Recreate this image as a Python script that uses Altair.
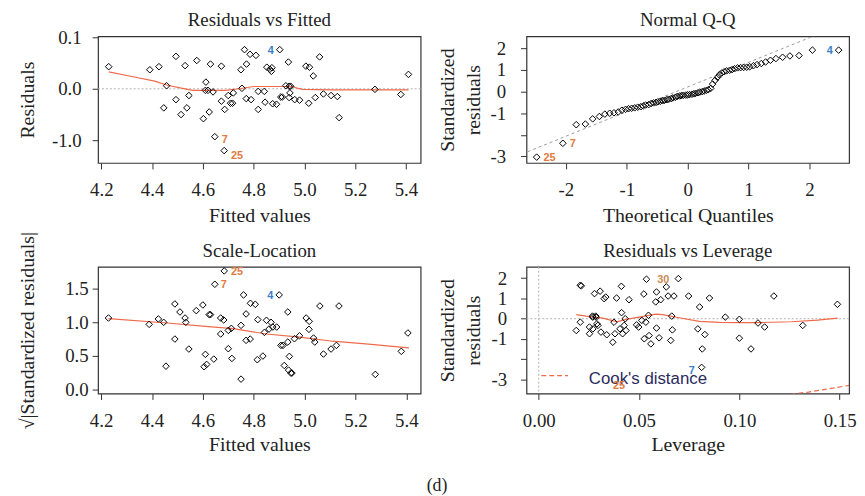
import altair as alt
import pandas as pd

SERIF = "Liberation Serif"
SANS = "Liberation Sans"
W, H = 326, 128
BLUE = "#3a7fc6"
ORANGE = "#e07a3e"
RED = "#f06a4a"

# ---------------- Residuals vs Fitted ----------------
rvf_fitted = [4.229, 4.391, 4.427, 4.457, 4.446, 4.494, 4.494, 4.530, 4.514, 4.537,
              4.545, 4.576, 4.602, 4.612, 4.610, 4.620, 4.630, 4.625, 4.640, 4.647,
              4.673, 4.673, 4.686, 4.684, 4.700, 4.709, 4.717, 4.720, 4.750, 4.754,
              4.764, 4.772, 4.771, 4.786, 4.790, 4.809, 4.818, 4.818, 4.842, 4.845,
              4.852, 4.864, 4.870, 4.872, 4.903, 4.875, 4.890, 4.907, 4.913, 4.927,
              4.937, 4.940, 4.946, 4.940, 4.943, 4.962, 4.981, 5.006, 5.020, 5.017,
              5.035, 5.043, 5.060, 5.075, 5.105, 5.130, 5.137, 5.278, 5.380, 5.410]
rvf_resid = [0.043, 0.037, 0.043, 0.006, -0.037, 0.063, -0.021, 0.045, -0.050, -0.037,
             -0.013, 0.055, -0.058, 0.013, -0.003, -0.003, 0.048, -0.045, -0.006, -0.093,
             0.044, -0.024, -0.040, -0.120, -0.013, -0.028, -0.028, -0.008, 0.037, 0.001,
             0.076, 0.048, -0.019, 0.067, -0.021, 0.065, -0.005, -0.040, -0.005, -0.026,
             0.042, 0.038, 0.034, 0.041, 0.076, -0.029, -0.030, -0.016, -0.016, 0.006,
             0.052, 0.005, 0.005, -0.017, -0.008, -0.021, -0.022, 0.044, 0.042, -0.028,
             0.025, -0.017, 0.062, -0.010, -0.013, -0.015, -0.056, -0.001, -0.011, 0.028]
rvf_smooth_x = [4.229, 4.33, 4.41, 4.46, 4.52, 4.56, 4.61, 4.69, 4.75, 4.80, 4.89, 4.95, 4.975, 4.995, 5.11, 5.41]
rvf_smooth_y = [0.033, 0.023, 0.015, 0.007, 0.001, -0.003, -0.003, -0.003, 0.0006, 0.0045, 0.0045, 0.0045, 0.001, -0.001, -0.002, -0.002]
rvf_lab_x = [4.903, 4.647, 4.684]
rvf_lab_y = [0.076, -0.093, -0.120]
rvf_lab = ["4", "7", "25"]

# ---------------- Normal Q-Q ----------------
qq_theo = [-2.48, -2.05, -1.83, -1.68, -1.56, -1.45, -1.36, -1.28, -1.21, -1.14,
           -1.08, -1.02, -0.97, -0.92, -0.87, -0.82, -0.77, -0.73, -0.69, -0.64,
           -0.60, -0.56, -0.52, -0.49, -0.45, -0.41, -0.38, -0.34, -0.31, -0.27,
           -0.24, -0.20, -0.17, -0.13, -0.10, -0.07, -0.03, 0.00, 0.03, 0.07,
           0.10, 0.13, 0.17, 0.20, 0.24, 0.27, 0.31, 0.34, 0.38, 0.41,
           0.45, 0.49, 0.52, 0.56, 0.60, 0.64, 0.69, 0.73, 0.77, 0.82,
           0.87, 0.92, 0.97, 1.02, 1.08, 1.14, 1.21, 1.28, 1.36, 1.45,
           1.56, 1.68, 1.83, 2.05, 2.48]
qq_std = [-3.03, -2.39, -1.53, -1.50, -1.26, -1.15, -1.04, -1.00, -0.98, -0.94,
          -0.86, -0.82, -0.79, -0.77, -0.75, -0.72, -0.70, -0.66, -0.62, -0.60,
          -0.55, -0.52, -0.50, -0.47, -0.45, -0.42, -0.40, -0.37, -0.35, -0.32,
          -0.29, -0.26, -0.22, -0.20, -0.18, -0.17, -0.16, -0.15, -0.14, -0.12,
          -0.10, -0.08, -0.05, -0.02, 0.00, 0.03, 0.06, 0.09, 0.15, 0.35,
          0.52, 0.66, 0.78, 0.86, 0.92, 0.96, 0.99, 1.02, 1.06, 1.10,
          1.11, 1.12, 1.13, 1.15, 1.20, 1.25, 1.30, 1.37, 1.45, 1.53,
          1.59, 1.65, 1.67, 1.92, 1.92]
qq_line_x = [-2.9, 2.9]
qq_line_y = [-3.09, 3.52]
qq_lab_x = [-2.48, -2.05, 2.48]
qq_lab_y = [-3.03, -2.39, 1.92]
qq_lab = ["25", "7", "4"]

# ---------------- Scale-Location ----------------
sl_fitted = [4.229, 4.389, 4.425, 4.446, 4.455, 4.490, 4.490, 4.510, 4.530, 4.533,
             4.545, 4.574, 4.600, 4.610, 4.605, 4.615, 4.625, 4.630, 4.643, 4.647,
             4.670, 4.682, 4.670, 4.684, 4.700, 4.700, 4.712, 4.714, 4.750, 4.750,
             4.760, 4.770, 4.770, 4.786, 4.787, 4.806, 4.814, 4.816, 4.836, 4.842,
             4.850, 4.868, 4.860, 4.875, 4.890, 4.900, 4.907, 4.915, 4.920, 4.934,
             4.934, 4.937, 4.940, 4.946, 4.950, 4.960, 4.980, 5.006, 5.018, 5.017,
             5.035, 5.040, 5.060, 5.074, 5.104, 5.125, 5.135, 5.278, 5.380, 5.406]
sl_sqrt_std = [1.064, 0.970, 1.050, 1.000, 0.350, 1.272, 0.752, 1.153, 1.064, 1.000,
               0.604, 1.173, 1.257, 0.525, 0.342, 0.376, 1.114, 1.114, 0.455, 1.564,
               1.064, 1.035, 0.827, 1.762, 0.609, 0.880, 0.911, 0.465, 0.955, 0.158,
               1.406, 0.733, 1.124, 0.752, 1.282, 1.267, 0.446, 1.040, 0.500, 0.851,
               1.030, 1.000, 0.900, 0.930, 0.930, 1.406, 0.658, 0.658, 0.360, 1.153,
               0.708, 0.292, 0.495, 0.248, 0.248, 0.757, 0.800, 1.064, 1.015, 0.896,
               0.767, 0.708, 1.242, 0.530, 0.604, 0.658, 1.242, 0.228, 0.570, 0.842]
sl_smooth_x = [4.229, 4.46, 4.61, 4.72, 4.85, 4.98, 5.11, 5.24, 5.41]
sl_smooth_y = [1.054, 0.99, 0.94, 0.906, 0.827, 0.78, 0.72, 0.68, 0.62]
sl_lab_x = [4.684, 4.647, 4.900]
sl_lab_y = [1.762, 1.564, 1.406]
sl_lab = ["25", "7", "4"]

# ---------------- Residuals vs Leverage ----------------
lev_h = [0.0207, 0.0212, 0.0187, 0.0207, 0.0253, 0.0253, 0.0269, 0.0278, 0.0286, 0.0270,
         0.0290, 0.0295, 0.0306, 0.0310, 0.0334, 0.0326, 0.0339, 0.0369, 0.0375, 0.0388,
         0.0380, 0.0412, 0.0413, 0.0405, 0.0418, 0.0426, 0.0431, 0.0435, 0.0450, 0.0488,
         0.0498, 0.0514, 0.0524, 0.0534, 0.0526, 0.0537, 0.0547, 0.0550, 0.0559, 0.0587,
         0.0587, 0.0583, 0.0600, 0.0608, 0.0636, 0.0645, 0.0658, 0.0666, 0.0663, 0.0674,
         0.0696, 0.0747, 0.0793, 0.0802, 0.0815, 0.0812, 0.0828, 0.0851, 0.0930, 0.1000,
         0.1000, 0.1058, 0.1093, 0.1126, 0.1172, 0.1316, 0.1489, 0.0268, 0.0284]
lev_std = [1.65, 1.62, -0.58, -0.17, -0.74, -0.41, 0.08, 1.24, 0.08, -0.50,
           -0.25, -0.33, 1.36, -0.66, 1.07, 0.99, -0.79, -1.16, -0.17, 1.02,
           -0.74, 1.60, 0.30, -0.50, -0.74, -0.33, 0.00, -0.58, 0.94, -0.30,
           -0.41, -0.08, 1.22, -0.17, -0.99, 1.95, 0.17, -0.83, -1.24, 1.32,
           -0.46, 0.83, -0.94, 0.94, 1.57, 1.12, -1.07, -0.55, 0.13, 1.12,
           1.98, 1.12, -0.50, 0.58, -1.49, -2.40, -0.78, 1.02, 0.08, -0.03,
           -0.96, -1.49, -0.21, -0.41, 1.12, -0.33, 0.71, 0.13, 0.13]
lev_smooth_x = [0.0187, 0.0236, 0.032, 0.039, 0.0435, 0.05, 0.0583, 0.0617, 0.07, 0.08,
                0.09, 0.10, 0.11, 0.126, 0.139, 0.149]
lev_smooth_y = [0.20, 0.13, 0.03, -0.15, -0.03, 0.08, 0.23, 0.20, 0.05, -0.13,
                -0.18, -0.19, -0.19, -0.15, -0.07, 0.03]
cook_x = [0.1255, 0.1345, 0.145, 0.1547]
cook_y = [-3.72, -3.62, -3.45, -3.29]
lev_lab_x = [0.0537, 0.0812, 0.0400]
lev_lab_y = [1.95, -2.40, -3.27]
lev_lab = ["30", "7", "25"]

panel_titles = ["Residuals vs Fitted", "Normal Q-Q", "Scale-Location", "Residuals vs Leverage"]

TICK_FS = 19
TITLE_FS = 20
HEAD_FS = 19


def y_axis(values, label_expr, title, title_x, label_padding, line_height=None):
    kw = dict(values=values, labelExpr=label_expr, title=title, titleX=title_x, titleY=H / 2,
              titleAngle=-90, titleAlign="center", titleBaseline="middle",
              tickSize=6, labelPadding=label_padding, grid=False, domain=False)
    if line_height:
        kw["titleLineHeight"] = line_height
    return alt.Axis(**kw)


def x_axis(values, label_expr, title, title_y):
    return alt.Axis(values=values, labelExpr=label_expr, title=title, titleY=title_y,
                    titleBaseline="alphabetic", labelBaseline="alphabetic",
                    labelPadding=27, tickSize=6, grid=False, domain=False, labelFlush=False)


def panel(title, X, Y, pts, smooth=None, refline=None, labels=None, extra=()):
    layers = []
    if refline is not None:
        layers.append(refline)
    if smooth is not None:
        layers.append(alt.Chart(smooth).mark_line(color=RED, strokeWidth=1.2, clip=True)
                      .encode(x=X, y=Y, order="o:Q"))
    layers.extend(extra)
    layers.append(alt.Chart(pts).mark_point(shape="diamond", filled=False, color="black",
                                            size=44, strokeWidth=1, opacity=1)
                  .encode(x=X, y=Y))
    if labels is not None:
        for lab_df, dx, dy, col in labels:
            layers.append(alt.Chart(lab_df).mark_text(font=SANS, fontSize=11, fontWeight="bold",
                                                      color=col, dx=dx, dy=dy)
                          .encode(x=X, y=Y, text="label:N"))
    # panel heading, drawn as text just above the plot frame
    layers.append(alt.Chart(pd.DataFrame({"t": [title]})).mark_text(
        font=SERIF, fontSize=HEAD_FS, color="#222", align="center", baseline="alphabetic")
        .encode(x=alt.value(W / 2), y=alt.value(-10), text="t:N"))
    return alt.layer(*layers).properties(width=W, height=H)


def zero_rule(Y, df):
    return alt.Chart(df).mark_rule(color="#b0b0b0", strokeDash=[2, 2], strokeWidth=1).encode(y=Y)


# ---- panel 1
X1 = alt.X("x:Q", scale=alt.Scale(domain=[4.187, 5.458], nice=False, zero=False),
           axis=x_axis([4.2, 4.4, 4.6, 4.8, 5.0, 5.2, 5.4], "format(datum.value, '.1f')", "Fitted values", 59))
Y1 = alt.Y("y:Q", scale=alt.Scale(domain=[-0.144, 0.102], nice=False, zero=False),
           axis=y_axis([-0.1, 0, 0.1], "datum.value < -0.05 ? '-1.0' : format(datum.value, '.1f')",
                       "Residuals", -71, 11))
p1_pts = pd.DataFrame({"x": rvf_fitted, "y": rvf_resid})
p1_sm = pd.DataFrame({"x": rvf_smooth_x, "y": rvf_smooth_y, "o": range(len(rvf_smooth_x))})
p1_lab = pd.DataFrame({"x": rvf_lab_x, "y": rvf_lab_y, "label": rvf_lab})
p1 = panel(panel_titles[0], X1, Y1, p1_pts, smooth=p1_sm,
           refline=zero_rule(Y1, pd.DataFrame({"y": [0.0]})),
           labels=[(p1_lab.iloc[[0]], -9, 1, BLUE), (p1_lab.iloc[[1]], 10, 3, ORANGE),
                   (p1_lab.iloc[[2]], 13, 5, ORANGE)])

# ---- panel 2
X2 = alt.X("x:Q", scale=alt.Scale(domain=[-2.647, 2.652], nice=False, zero=False),
           axis=x_axis([-2, -1, 0, 1, 2], "'' + datum.value", "Theoretical Quantiles", 59))
Y2 = alt.Y("y:Q", scale=alt.Scale(domain=[-3.30, 2.56], nice=False, zero=False),
           axis=y_axis([-3, -2, -1, 0, 1, 2], "datum.value == -2 ? '' : '' + datum.value",
                       ["Standardized", "residuals"], -80, 15, 27))
p2_pts = pd.DataFrame({"x": qq_theo, "y": qq_std})
p2_line = pd.DataFrame({"x": qq_line_x, "y": qq_line_y})
p2_lab = pd.DataFrame({"x": qq_lab_x, "y": qq_lab_y, "label": qq_lab})
qq_ref = alt.Chart(p2_line).mark_line(color="#9a9a9a", strokeDash=[3, 3], strokeWidth=1, clip=True).encode(x=X2, y=Y2)
p2 = panel(panel_titles[1], X2, Y2, p2_pts, refline=qq_ref,
           labels=[(p2_lab.iloc[[0]], 13, 1, ORANGE), (p2_lab.iloc[[1]], 10, 1, ORANGE),
                   (p2_lab.iloc[[2]], -9, 1, BLUE)])

# ---- panel 3
X3 = alt.X("x:Q", scale=alt.Scale(domain=[4.188, 5.456], nice=False, zero=False),
           axis=x_axis([4.2, 4.4, 4.6, 4.8, 5.0, 5.2, 5.4], "format(datum.value, '.1f')", "Fitted values", 58))
Y3 = alt.Y("y:Q", scale=alt.Scale(domain=[-0.055, 1.822], nice=False, zero=False),
           axis=y_axis([0, 0.5, 1.0, 1.5], "format(datum.value, '.1f')",
                       "√|Standardized residuals|", -71, 4))
p3_pts = pd.DataFrame({"x": sl_fitted, "y": sl_sqrt_std})
p3_sm = pd.DataFrame({"x": sl_smooth_x, "y": sl_smooth_y, "o": range(len(sl_smooth_x))})
p3_lab = pd.DataFrame({"x": sl_lab_x, "y": sl_lab_y, "label": sl_lab})
p3 = panel(panel_titles[2], X3, Y3, p3_pts, smooth=p3_sm,
           labels=[(p3_lab.iloc[[0]], 13, 1, ORANGE), (p3_lab.iloc[[1]], 9, 1, ORANGE),
                   (p3_lab.iloc[[2]], -9, 1, BLUE)])

# ---- panel 4
X4 = alt.X("x:Q", scale=alt.Scale(domain=[-0.0061, 0.1547], nice=False, zero=False),
           axis=x_axis([0, 0.05, 0.10, 0.15], "format(datum.value, '.2f')", "Leverage", 58))
Y4 = alt.Y("y:Q", scale=alt.Scale(domain=[-3.69, 2.56], nice=False, zero=False),
           axis=y_axis([-3, -2, -1, 0, 1, 2], "datum.value == -2 ? '' : '' + datum.value",
                       ["Standardized", "residuals"], -80, 14, 27))
p4_pts = pd.DataFrame({"x": lev_h, "y": lev_std})
p4_sm = pd.DataFrame({"x": lev_smooth_x, "y": lev_smooth_y, "o": range(len(lev_smooth_x))})
p4_cook = pd.DataFrame({"x": cook_x, "y": cook_y, "o": range(len(cook_x))})
p4_lab = pd.DataFrame({"x": lev_lab_x, "y": lev_lab_y, "label": lev_lab})
vrule = alt.Chart(pd.DataFrame({"x": [0.0]})).mark_rule(color="#b0b0b0", strokeDash=[2, 2]).encode(x=X4)
cook_line = alt.Chart(p4_cook).mark_line(color=RED, strokeDash=[5, 3], strokeWidth=1.2, clip=True).encode(
    x=X4, y=Y4, order="o:Q")
leg_line = alt.Chart(pd.DataFrame({"k": [1]})).mark_rule(color=RED, strokeDash=[5, 3], strokeWidth=1.2).encode(
    x=alt.value(15), x2=alt.value(42), y=alt.value(110))
leg_text = alt.Chart(pd.DataFrame({"t": ["Cook's distance"]})).mark_text(
    font=SANS, fontSize=17, color="#2b2b5e", align="left", baseline="middle").encode(
    x=alt.value(63), y=alt.value(113), text="t:N")
p4 = panel(panel_titles[3], X4, Y4, p4_pts, smooth=p4_sm,
           refline=zero_rule(Y4, pd.DataFrame({"y": [0.0]})),
           extra=(vrule, cook_line, leg_line, leg_text),
           labels=[(p4_lab.iloc[[0]], 17, 1, "#c98a55"), (p4_lab.iloc[[1]], -10, 4, BLUE),
                   (p4_lab.iloc[[2]], 0, 1, ORANGE)])

chart = alt.concat(p1, p2, p3, p4, columns=2, spacing={"row": 105, "column": 107},
                   bounds="flush").properties(
    padding={"left": 9, "top": 0, "right": 0, "bottom": 0},
    title=alt.TitleParams("(d)", orient="bottom", anchor="middle", font=SERIF, fontSize=18,
                          fontWeight="normal", color="#222", offset=22, baseline="top")
).configure_view(stroke="#333333", strokeWidth=1.2).configure_axis(
    labelFont=SERIF, labelFontSize=TICK_FS, labelColor="#222", titleFont=SERIF, titleFontSize=TITLE_FS,
    titleFontWeight="normal", titleColor="#222", tickColor="#333", tickWidth=1
)

chart.save("out.html", embed_options={"renderer": "svg", "actions": False})
